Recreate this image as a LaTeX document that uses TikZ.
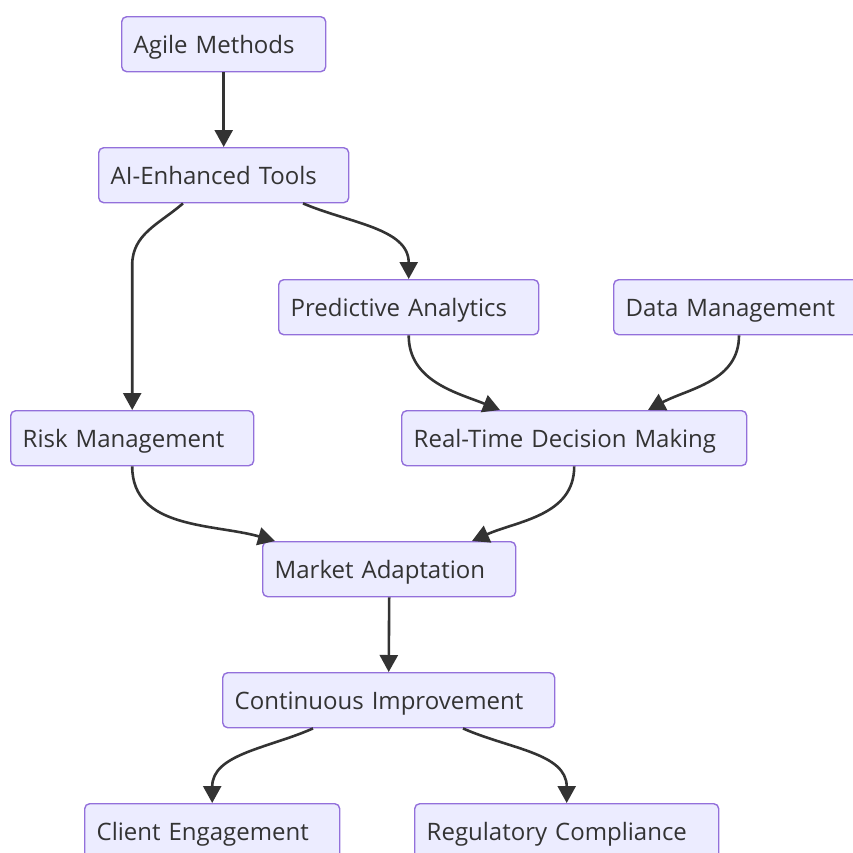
\documentclass[tikz,border=0pt]{standalone}
\usepackage{fontspec}
\setmainfont{Open Sans}
\usetikzlibrary{arrows.meta,calc}
\definecolor{boxfill}{HTML}{ECECFF}
\definecolor{boxline}{HTML}{9370DB}
\definecolor{ink}{HTML}{333333}
\tikzset{
  box/.style={draw=boxline, fill=boxfill, line width=1.4pt, rounded corners=5pt,
    anchor=north west, text height=37pt, text depth=18pt, inner xsep=12pt, inner ysep=0pt,
    align=left, text=ink, font=\fontsize{24}{28}\selectfont},
  link/.style={draw=ink, line width=2.6pt, -{Triangle[length=17pt,width=18pt]}},
}
\begin{document}
\begin{tikzpicture}[x=1pt,y=1pt]
\useasboundingbox (0,0) rectangle (853,-852);
\node[box, text width=180pt] (agile) at (121,-16) {Agile Methods};
\node[box, text width=226pt] (ai) at (98,-147) {AI-Enhanced Tools};
\node[box, text width=236pt] (pred) at (278,-279) {Predictive Analytics};
\node[box, text width=226pt] (data) at (613,-279) {Data Management};
\node[box, text width=219pt] (risk) at (10,-410) {Risk Management};
\node[box, text width=321pt] (rt) at (401,-410) {Real-Time Decision Making};
\node[box, text width=229pt] (market) at (262,-541) {Market Adaptation};
\node[box, text width=308pt] (cont) at (222,-672) {Continuous Improvement};
\node[box, text width=231pt] (client) at (84,-803) {Client Engagement};
\node[box, text width=280pt] (reg) at (414,-803) {Regulatory Compliance};

\draw[link] (agile.south) -- (ai.north);
\draw[link] ($(ai.south west)+(85,0)$) to[out=221,in=90] ($(risk.north)+(0,145)$) -- (risk.north);
\draw[link] ($(ai.south west)+(205,0)$) to[out=337,in=90] (pred.north);
\draw[link] (pred.south) to[out=270,in=158] ($(rt.north west)+(99,0)$);
\draw[link] ($(data.south west)+(126,0)$) to[out=270,in=28] ($(rt.north west)+(247,0)$);
\draw[link] (risk.south) to[out=270,in=164] ($(market.north west)+(13,0)$);
\draw[link] (rt.south) to[out=270,in=24] ($(market.north west)+(210,0)$);
\draw[link] (market.south) -- (cont.north);
\draw[link] ($(cont.south west)+(91,0)$) to[out=204,in=90] (client.north);
\draw[link] ($(cont.south west)+(241,0)$) to[out=336,in=90] (reg.north);
\end{tikzpicture}
\end{document}
